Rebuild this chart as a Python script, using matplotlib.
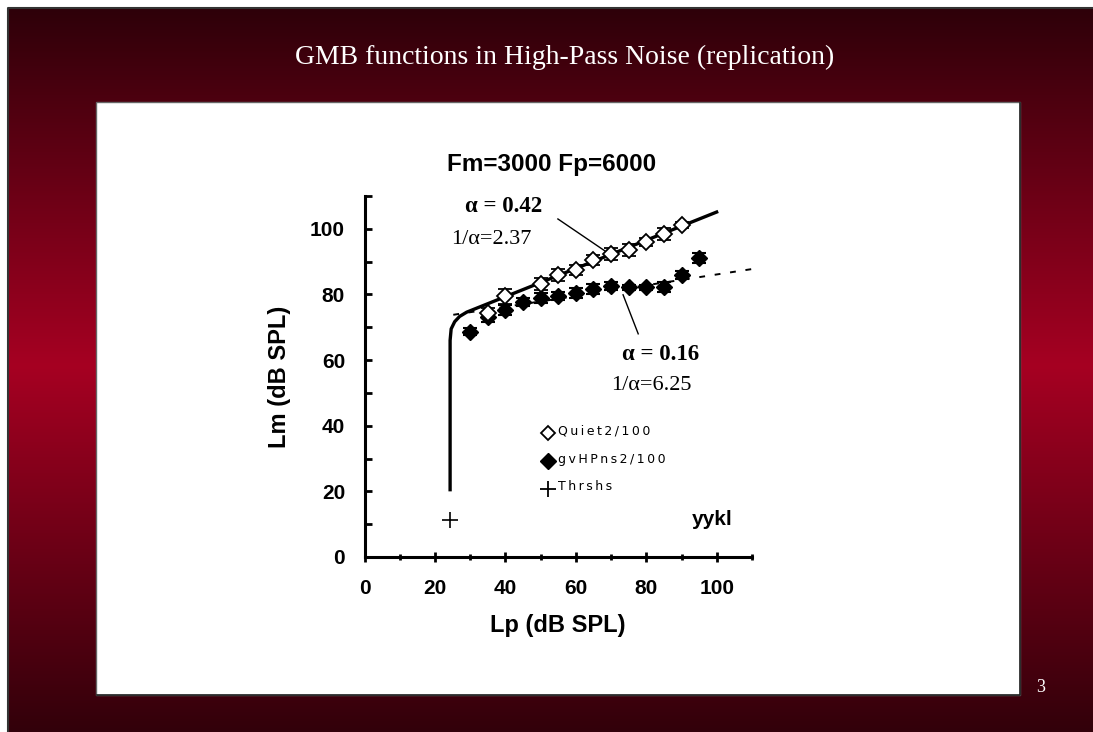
import numpy as np
import matplotlib
matplotlib.use("Agg")
import matplotlib.pyplot as plt
from matplotlib.patches import Rectangle
from matplotlib.ticker import MultipleLocator

# --- data ---
quiet_lp = [35, 40, 50, 55, 60, 65, 70, 75, 80, 85, 90]
quiet_lm = [74.3, 79.4, 83.2, 86.0, 87.5, 90.5, 92.4, 93.6, 96.1, 98.4, 101.2]
quiet_err = [1.5, 2.3, 1.8, 1.8, 1.5, 1.5, 1.8, 1.8, 1.2, 1.8, 1.0]

noise_lp = [30, 35, 40, 45, 50, 55, 60, 65, 70, 75, 80, 85, 90, 95]
noise_lm = [68.7, 73.1, 75.3, 77.8, 78.9, 79.4, 80.4, 81.6, 82.6, 82.2, 82.2, 82.4, 86.0, 91.1]
noise_err = [1.0, 1.5, 1.5, 1.2, 1.5, 1.2, 1.5, 1.5, 1.2, 0.8, 0.8, 1.5, 1.2, 1.5]

thr_lp = [24.3]
thr_lm = [11.3]

# fitted curves
fit_q_lp = [24.3, 24.3, 24.6, 25.6, 27.0, 29.0, 100.4]
fit_q_lm = [20.0, 66.0, 69.5, 71.7, 73.3, 74.6, 105.3]
fit_n_lp = [25.2, 112.2]
fit_n_lm = [73.8, 88.1]

legend_labels = ["Quiet2/100", "gvHPns2/100", "Thrshs"]

W, H = 1093, 732
fig = plt.figure(figsize=(W / 100, H / 100), dpi=100)

# slide background
bg = fig.add_axes([0, 0, 1, 1])
bg.set_xlim(0, W)
bg.set_ylim(H, 0)
bg.axis("off")
stops_y = [8, 366, 732]
stops_c = np.array([[46, 0, 9], [166, 0, 34], [50, 0, 10]]) / 255.0
yy = np.linspace(8, 732, 400)
col = np.stack([np.interp(yy, stops_y, stops_c[:, k]) for k in range(3)], axis=1)
img = np.repeat(col[:, None, :], 2, axis=1)
bg.imshow(img, extent=[8, W, H, 8], aspect="auto", zorder=0)
bg.plot([8, 8, W], [H, 8, 8], color="#333333", lw=1.5, zorder=1)
bg.add_patch(Rectangle((96, 102), 924, 593, facecolor="white", edgecolor="#666666", lw=1, zorder=2))
bg.plot([97, 1020, 1020], [695, 695, 103], color="#222222", lw=1.2, zorder=3)
bg.text(565, 57, "GMB functions in High-Pass Noise (replication)", color="white",
        fontsize=20, family="Liberation Serif", ha="center", va="center")
bg.text(1041, 688, "3", color="white", fontsize=13, family="Liberation Serif",
        ha="center", va="center")

# chart
x0, x1 = 364.5, 752
y0, y1 = 557, 196
ax = fig.add_axes([x0 / W, 1 - y0 / H, (x1 - x0) / W, (y0 - y1) / H])
ax.patch.set_alpha(0)
ax.set_xlim(0, 110)
ax.set_ylim(0, 110)
for s in ["top", "right"]:
    ax.spines[s].set_visible(False)
for s in ["left", "bottom"]:
    ax.spines[s].set_linewidth(2.2)

ax.xaxis.set_minor_locator(MultipleLocator(10))
ax.yaxis.set_minor_locator(MultipleLocator(10))
ax.set_xticks([0, 20, 40, 60, 80, 100])
ax.set_yticks([0, 20, 40, 60, 80, 100])
ax.tick_params(axis="x", which="both", direction="inout", width=2, pad=12,
               labelsize=15)
ax.tick_params(axis="x", which="major", length=7)
ax.tick_params(axis="x", which="minor", length=5)
ax.tick_params(axis="y", which="both", direction="in", width=2, length=5, pad=14,
               labelsize=15)
for lab in ax.get_xticklabels() + ax.get_yticklabels():
    lab.set_family("Liberation Sans")
    lab.set_fontweight("bold")

ax.set_xlabel("Lp (dB SPL)", fontsize=17, fontweight="bold", family="Liberation Sans", labelpad=12)
ax.set_ylabel("Lm (dB SPL)", fontsize=17, fontweight="bold", family="Liberation Sans", labelpad=14)
fig.text(552 / W, 1 - 165 / H, "Fm=3000 Fp=6000", fontsize=17.5, fontweight="bold",
         family="Liberation Sans", ha="center", va="center")

# fits
ax.plot(fit_q_lp, fit_q_lm, color="black", lw=2.4, solid_capstyle="butt", zorder=3)
ax.plot(fit_n_lp, fit_n_lm, color="black", lw=1.4, dashes=(3, 5), clip_on=False, zorder=2)

# data
ax.errorbar(noise_lp, noise_lm, yerr=noise_err, fmt="D", color="black", ms=8.5,
            mfc="black", mec="black", ecolor="black", elinewidth=1.5, capsize=5,
            capthick=1.5, zorder=4)
ax.errorbar(quiet_lp, quiet_lm, yerr=quiet_err, fmt="D", color="black", ms=8.5,
            mfc="white", mec="black", mew=1.3, ecolor="black", elinewidth=1.5,
            capsize=5, capthick=1.5, zorder=5)
ax.plot(thr_lp, thr_lm, "+", color="black", ms=11, mew=1.2, zorder=5)

# annotations
serif = "Liberation Serif"
ax.text(28.5, 105.0, "α = 0.42", fontsize=16.5, fontweight="bold", family=serif, va="baseline")
ax.text(24.7, 95.4, "1/α=2.37", fontsize=16, family=serif, va="baseline")
ax.plot([54.9, 68.2], [103.0, 93.3], color="black", lw=1)
ax.text(73.0, 60.1, "α = 0.16", fontsize=16.5, fontweight="bold", family=serif, va="baseline")
ax.text(70.1, 50.9, "1/α=6.25", fontsize=16, family=serif, va="baseline")
ax.plot([73.4, 77.7], [79.9, 68.0], color="black", lw=1)

# legend drawn as in the slide
ax.plot([52.1], [37.8], "D", ms=7, mfc="white", mec="black", mew=1.3)
ax.plot([52.1], [29.3], "D", ms=8, mfc="black", mec="black")
ax.plot([52.1], [20.7], "+", ms=11, mew=1.3, color="black")
for yv, t in zip([38.3, 29.8, 21.5], legend_labels):
    ax.text(54.9, yv, "\u2009".join(t), fontsize=9, family="DejaVu Sans", va="center")
ax.text(92.9, 11.3, "yykl", fontsize=15, fontweight="bold", family="Liberation Sans", va="center")

fig.savefig("out.png", dpi=100)
